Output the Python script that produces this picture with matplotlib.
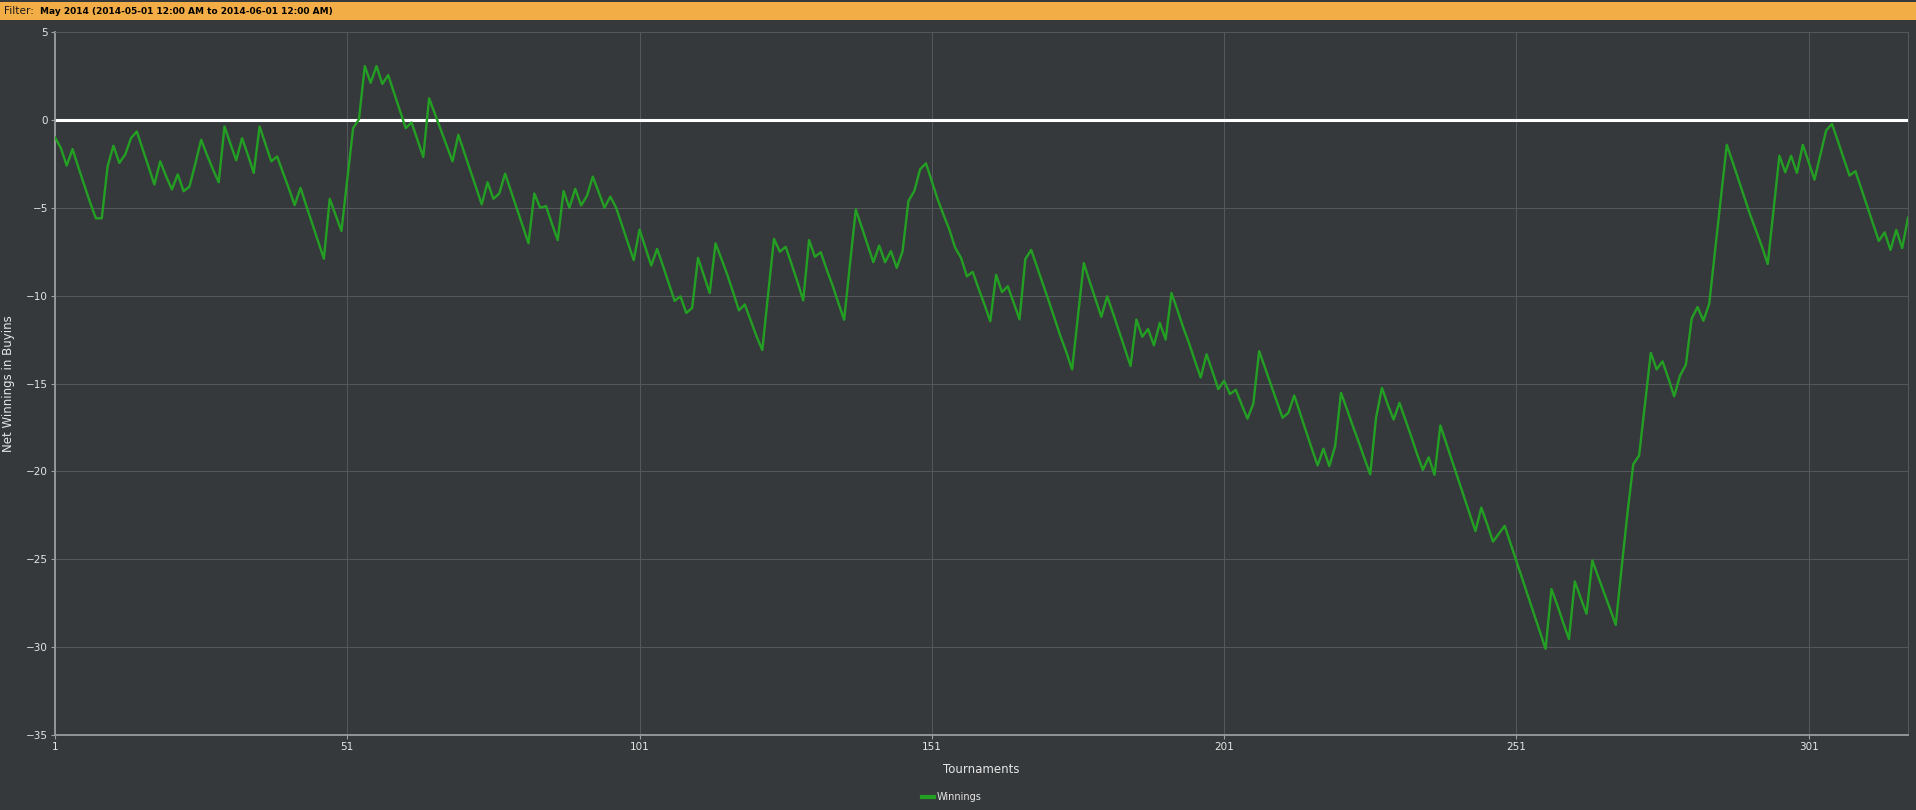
import numpy as np
import matplotlib.pyplot as plt
from matplotlib.lines import Line2D

# net winnings (in buyins) after each tournament
winnings = [
    -1.0, -1.6, -2.6, -1.66, -2.7, -3.7, -4.7, -5.6, -5.6, -2.64,
    -1.47, -2.45, -1.98, -1.04, -0.66, -1.67, -2.67, -3.68, -2.36, -3.2,
    -3.96, -3.1, -4.06, -3.8, -2.5, -1.13, -2.0, -2.8, -3.55, -0.38,
    -1.35, -2.3, -1.04, -2.0, -3.02, -0.38, -1.37, -2.36, -2.08, -3.0,
    -3.9, -4.85, -3.87, -4.9, -5.9, -6.9, -7.9, -4.49, -5.4, -6.32,
    -3.4, -0.47, 0.04, 3.06, 2.11, 3.06, 2.04, 2.55, 1.55, 0.54,
    -0.47, -0.15, -1.13, -2.11, 1.23, 0.33, -0.57, -1.46, -2.36, -0.85,
    -1.84, -2.83, -3.82, -4.81, -3.55, -4.49, -4.19, -3.06, -4.05, -5.04,
    -6.03, -7.02, -4.19, -5.0, -4.9, -5.9, -6.84, -4.05, -5.0, -3.92,
    -4.87, -4.33, -3.23, -4.1, -5.0, -4.37, -5.0, -6.0, -7.0, -7.98,
    -6.24, -7.27, -8.29, -7.34, -8.3, -9.3, -10.3, -10.04, -10.99, -10.7,
    -7.85, -8.85, -9.85, -7.03, -7.9, -8.8, -9.8, -10.84, -10.5, -11.4,
    -12.3, -13.1, -9.9, -6.77, -7.5, -7.22, -8.2, -9.2, -10.27, -6.84,
    -7.79, -7.53, -8.5, -9.4, -10.4, -11.37, -8.2, -5.1, -6.1, -7.1,
    -8.1, -7.15, -8.1, -7.47, -8.42, -7.47, -4.62, -4.05, -2.81, -2.47,
    -3.5, -4.52, -5.4, -6.24, -7.28, -7.85, -8.9, -8.65, -9.6, -10.5,
    -11.46, -8.82, -9.8, -9.47, -10.4, -11.35, -7.92, -7.4, -8.37, -9.34,
    -10.3, -11.3, -12.3, -13.2, -14.2, -11.2, -8.15, -9.2, -10.2, -11.2,
    -10.04, -11.0, -12.0, -13.0, -14.0, -11.36, -12.34, -11.9, -12.83, -11.55,
    -12.5, -9.85, -10.8, -11.8, -12.7, -13.7, -14.66, -13.34, -14.3, -15.32,
    -14.85, -15.6, -15.36, -16.2, -17.0, -16.15, -13.16, -14.1, -15.06, -16.0,
    -16.95, -16.67, -15.68, -16.7, -17.7, -18.7, -19.66, -18.71, -19.7, -18.56,
    -15.53, -16.45, -17.4, -18.3, -19.25, -20.17, -16.95, -15.25, -16.2, -17.05,
    -16.1, -17.05, -18.0, -19.0, -19.92, -19.2, -20.2, -17.39, -18.4, -19.4,
    -20.4, -21.4, -22.4, -23.4, -22.06, -23.0, -24.0, -23.55, -23.1, -24.1,
    -25.1, -26.1, -27.1, -28.1, -29.1, -30.1, -26.7, -27.6, -28.6, -29.54,
    -26.26, -27.2, -28.1, -25.07, -26.0, -26.9, -27.8, -28.73, -25.5, -22.4,
    -19.6, -19.1, -16.2, -13.26, -14.2, -13.74, -14.7, -15.73, -14.55, -13.93,
    -11.3, -10.65, -11.43, -10.45, -7.4, -4.4, -1.42, -2.4, -3.4, -4.4,
    -5.4, -6.3, -7.2, -8.2, -5.1, -2.04, -2.98, -2.04, -3.02, -1.42,
    -2.4, -3.4, -2.0, -0.6, -0.23, -1.2, -2.2, -3.17, -2.92, -3.9,
    -4.9, -5.9, -6.89, -6.4, -7.4, -6.26, -7.3, -5.57,
]
tournaments = np.arange(1, len(winnings) + 1)

x_ticks = [1, 51, 101, 151, 201, 251, 301]
y_ticks = [5, 0, -5, -10, -15, -20, -25, -30, -35]

bg = '#36393c'
grid_col = '#56595c'
text_col = '#e6e6e6'
green = '#23a023'

fig = plt.figure(figsize=(19.16, 8.10), dpi=100, facecolor=bg)

# orange filter bar across the top
fig.patches.append(plt.Rectangle((0, 1 - 20 / 810), 1, 18 / 810, transform=fig.transFigure,
                                 facecolor='#f2ad47', edgecolor='none'))
fig.text(4 / 1916, 1 - 11 / 810, 'Filter:', fontsize=7.6, color='#1a1a1a', va='center')
fig.text(40 / 1916, 1 - 11 / 810, 'May 2014 (2014-05-01 12:00 AM to 2014-06-01 12:00 AM)',
         fontsize=6.5, color='#000000', va='center', fontweight='bold')

ax = fig.add_axes([55 / 1916, 1 - 735 / 810, (1908 - 55) / 1916, (735 - 32) / 810])
ax.set_facecolor(bg)

ax.plot(tournaments, winnings, color=green, linewidth=1.7, zorder=3)
ax.axhline(0, color='white', linewidth=2.2, zorder=2)

ax.set_xlim(1, len(winnings))
ax.set_ylim(-35, 5)
ax.set_xticks(x_ticks)
ax.set_yticks(y_ticks)
ax.grid(True, color=grid_col, linewidth=0.7)
ax.set_axisbelow(True)

for side in ['top', 'right']:
    ax.spines[side].set_color(grid_col)
    ax.spines[side].set_linewidth(0.7)
for side in ['left', 'bottom']:
    ax.spines[side].set_color('#9a9c9e')
    ax.spines[side].set_linewidth(1.3)

ax.tick_params(colors=text_col, labelsize=7.5, length=3, width=0.8, pad=2)
ax.tick_params(axis='both', color='#9a9c9e')

ax.set_xlabel('Tournaments', color=text_col, fontsize=8.5, labelpad=8)
ax.set_ylabel('Net Winnings in Buyins', color=text_col, fontsize=8.5, labelpad=8)

handle = Line2D([0], [0], color=green, linewidth=3)
fig.legend([handle], ['Winnings'], loc='center', bbox_to_anchor=(952 / 1916, 1 - 797 / 810),
           frameon=False, fontsize=7, labelcolor=text_col, handlelength=1.2, handletextpad=0.3)

fig.savefig('out.png', dpi=100, facecolor=bg)
